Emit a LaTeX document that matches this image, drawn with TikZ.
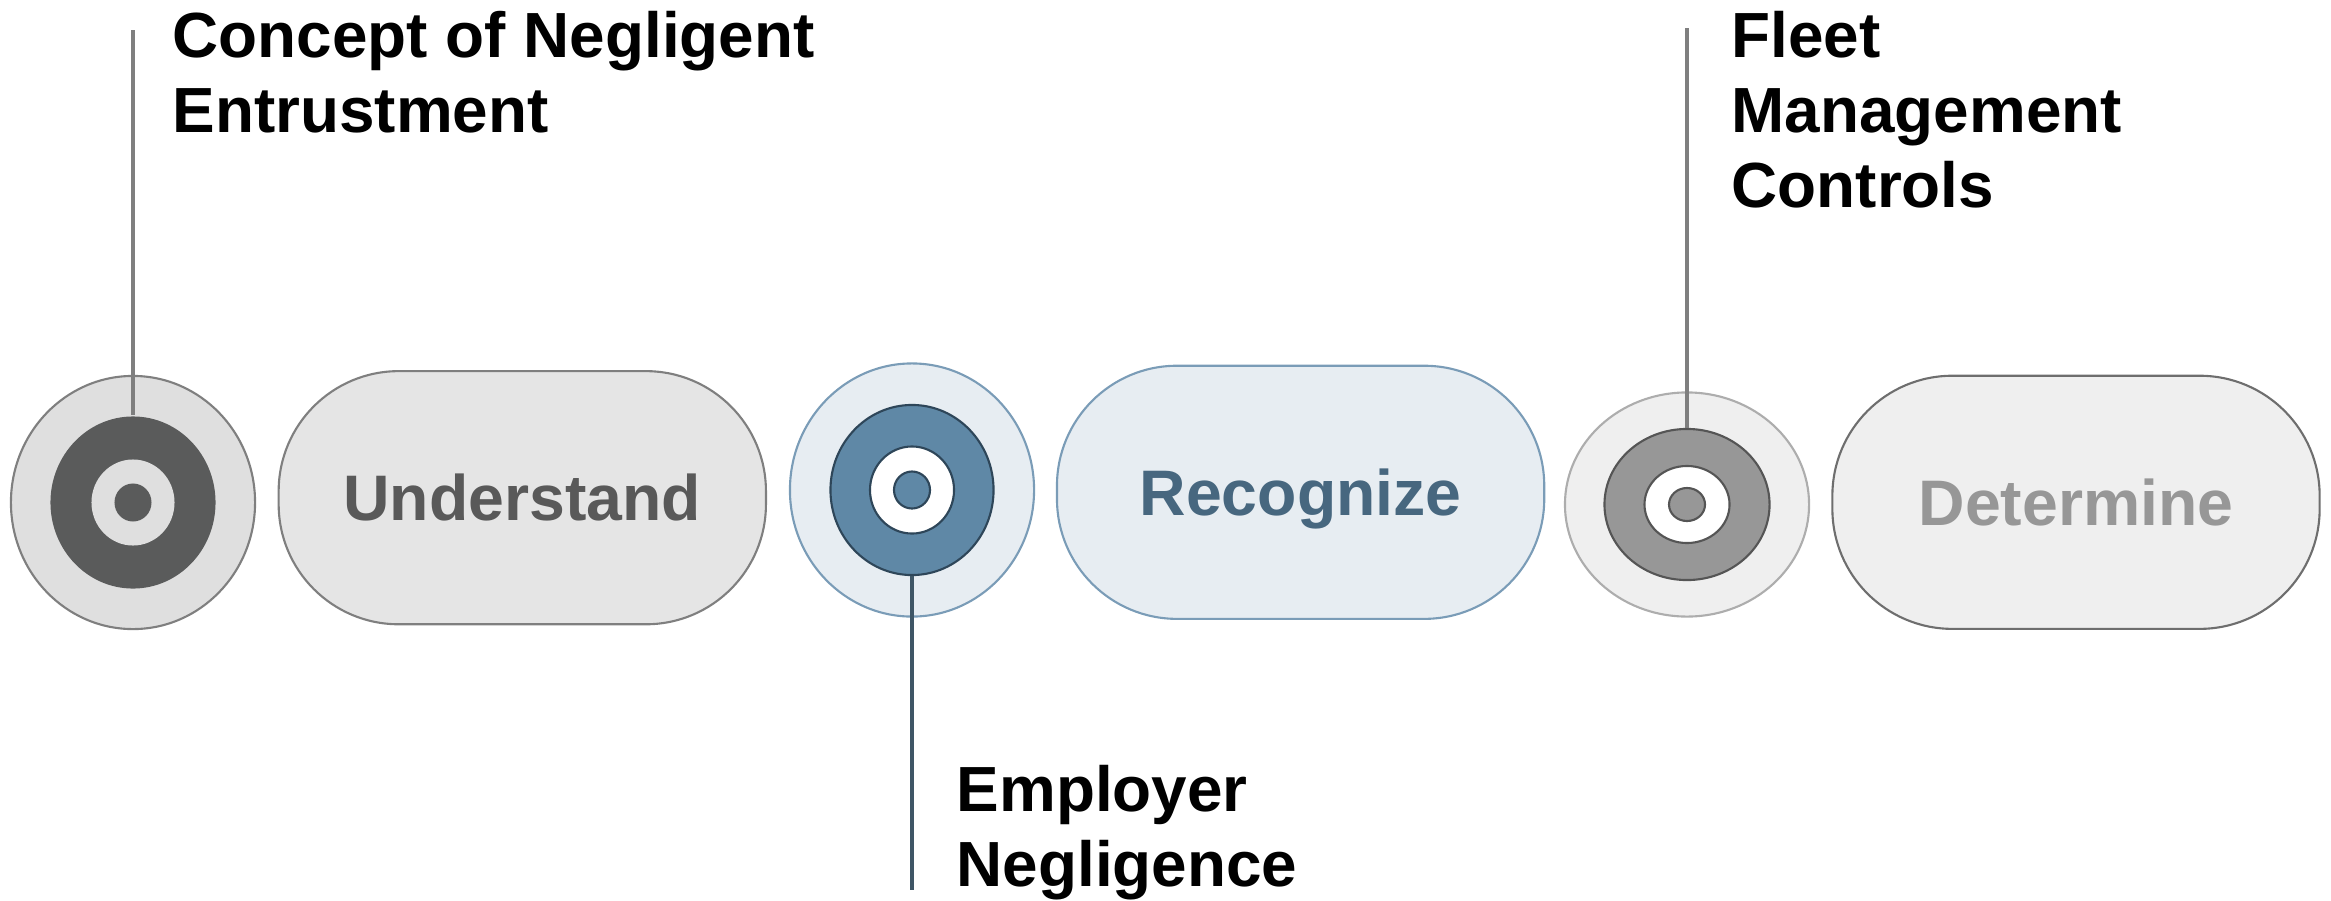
\documentclass[tikz,border=0pt]{standalone}
\usepackage{fontspec}
\setmainfont{Liberation Sans}
\usetikzlibrary{shapes.geometric}
\definecolor{aOut}{HTML}{DFDFDF}
\definecolor{aOutS}{HTML}{7F7F7F}
\definecolor{aRing}{HTML}{5A5B5B}
\definecolor{aPill}{HTML}{E5E5E5}
\definecolor{aTxt}{HTML}{595959}
\definecolor{bOut}{HTML}{E7EDF2}
\definecolor{bOutS}{HTML}{7A9CB7}
\definecolor{bRing}{HTML}{5F88A6}
\definecolor{bRingS}{HTML}{2E4659}
\definecolor{bTxt}{HTML}{47677F}
\definecolor{bLead}{HTML}{3F5666}
\definecolor{cOut}{HTML}{EFEFEF}
\definecolor{cOutS}{HTML}{ADADAD}
\definecolor{cRing}{HTML}{979797}
\definecolor{cRingS}{HTML}{555555}
\definecolor{cPillS}{HTML}{6E6E6E}
\definecolor{cTxt}{HTML}{979797}
\begin{document}
\begin{tikzpicture}[x=0.01cm,y=-0.01cm,
  tgt/.style={ellipse, inner sep=0pt, line width=0.6pt},
  pill/.style={rectangle, rounded corners=1.2cm, minimum width=4.87cm, minimum height=2.53cm,
    line width=0.6pt, inner sep=0pt, text height=0.46cm, text depth=0pt,
    font=\fontsize{18.3pt}{21pt}\selectfont\bfseries},
  lbl/.style={align=left, anchor=north west, inner sep=0pt,
    font=\fontsize{18.15pt}{21.3pt}\selectfont\bfseries},
  lead/.style={line width=1.05pt}]
\useasboundingbox (0,0) rectangle (2331,900);

% target 1
\node[tgt, fill=aOut, draw=aOutS, minimum width=2.44cm, minimum height=2.53cm] (t1o) at (133,502.5) {};
\node[tgt, fill=aRing, minimum width=1.65cm, minimum height=1.72cm] (t1r) at (133,502.5) {};
\node[tgt, fill=aOut, minimum width=0.83cm, minimum height=0.86cm] (t1i) at (133,502.5) {};
\node[tgt, fill=aRing, minimum width=0.37cm, minimum height=0.38cm] (t1d) at (133,502.5) {};
% pill 1
\node[pill, fill=aPill, draw=aOutS, text=aTxt] (p1) at (522.3,497.7) {Understand};

% target 2
\node[tgt, fill=bOut, draw=bOutS, minimum width=2.44cm, minimum height=2.53cm] (t2o) at (912,490) {};
\node[tgt, fill=bRing, draw=bRingS, minimum width=1.63cm, minimum height=1.70cm] (t2r) at (912,490) {};
\node[tgt, fill=white, draw=bRingS, minimum width=0.84cm, minimum height=0.87cm] (t2i) at (912,490) {};
\node[tgt, fill=bRing, draw=bRingS, minimum width=0.36cm, minimum height=0.37cm] (t2d) at (912,490) {};
% pill 2
\node[pill, fill=bOut, draw=bOutS, text=bTxt] (p2) at (1300.6,492.3) {Recognize};

% target 3
\node[tgt, fill=cOut, draw=cOutS, minimum width=2.44cm, minimum height=2.24cm] (t3o) at (1687,504.5) {};
\node[tgt, fill=cRing, draw=cRingS, minimum width=1.65cm, minimum height=1.51cm] (t3r) at (1687,504.5) {};
\node[tgt, fill=white, draw=cRingS, minimum width=0.85cm, minimum height=0.77cm] (t3i) at (1687,504.5) {};
\node[tgt, fill=cRing, draw=cRingS, minimum width=0.36cm, minimum height=0.33cm] (t3d) at (1687,504.5) {};
% pill 3
\node[pill, fill=cOut, draw=cPillS, text=cTxt] (p3) at (2076,502.3) {Determine};

% labels
\node[lbl] (l1) at (172,11) {Concept of Negligent\\Entrustment};
\node[lbl] (l2) at (956,765) {Employer\\Negligence};
\node[lbl] (l3) at (1731,11) {Fleet\\Management\\Controls};

% leader lines
\coordinate (e1) at (133,30);
\coordinate (e2) at (912,890);
\coordinate (e3) at (1687,28);
\draw[lead, draw=aOutS] (e1) -- (t1r.north);
\draw[lead, draw=bLead] (t2r.south) -- (e2);
\draw[lead, draw=aOutS] (e3) -- (t3r.north);
\end{tikzpicture}
\end{document}
